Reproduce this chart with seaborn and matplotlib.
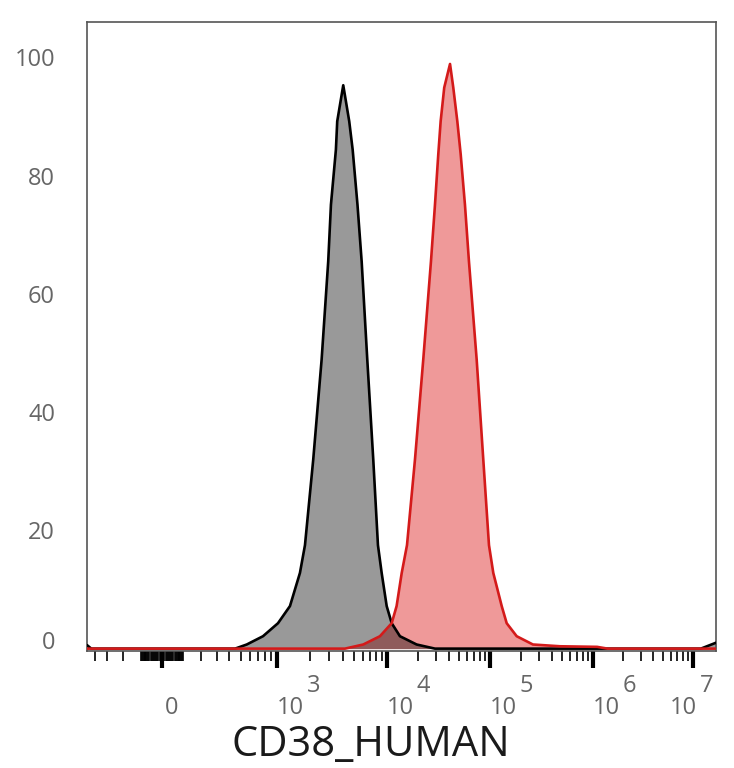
import numpy as np
import pandas as pd
import matplotlib
matplotlib.use("Agg")
import matplotlib.pyplot as plt
import matplotlib.transforms as mtransforms
import seaborn as sns

# ---------------- data ----------------
GRAY_X = [-467, -430, 450, 563, 767, 1021, 1313, 1618, 1798, 2138, 2548, 2925, 3097,
          3435, 3532, 4006, 4540, 4878, 5395, 5888, 6622, 7505, 8279, 8948, 9937,
          11110, 13360, 19390, 29240, 50000, 1.2e7, 1.7e7]
GRAY_Y = [0.6, 0, 0, 0.7, 2.1, 4.3, 7.2, 12.8, 17.5, 32.0, 48.9, 65.5, 75.1,
          84.4, 89.2, 95.3, 89.2, 84.4, 75.1, 65.5, 48.9, 32.0, 17.5, 12.8, 7.2,
          4.3, 2.1, 0.7, 0, 0, 0, 1.0]

RED_X = [-467, 4150, 6090, 8630, 11110, 12400, 13900, 15640, 18700, 22500, 26730,
         29240, 31480, 33190, 35960, 40930, 44030, 48190, 51970, 57150, 62500,
         74270, 86100, 97800, 107700, 130000, 145300, 181700, 261200, 478000,
         1.1e6, 1.4e6, 1.7e7]
RED_Y = [0, 0, 0.7, 2.1, 4.3, 7.2, 12.8, 17.5, 32.0, 48.9, 65.5,
         75.1, 83.6, 89.2, 94.9, 98.9, 94.9, 89.2, 83.6, 75.1, 65.5,
         48.9, 32.0, 17.5, 12.8, 7.2, 4.3, 2.1, 0.7, 0.4,
         0.3, 0, 0]

Y_TICKS = [0, 20, 40, 60, 80, 100]
X_MAJOR = [0, 1e3, 1e4, 1e5, 1e6, 1e7]
X_EXPONENTS = ["", "3", "4", "5", "6", "7"]
X_LABEL = "CD38_HUMAN"

# ---------------- biexponential-like axis scale ----------------
KNOT_VAL = np.array([0, 100, 200, 400, 1000, 1e4, 1e5, 1e6, 1e7, 1e8, 1e9])
KNOT_POS = np.array([0, 21, 39, 67, 115, 225, 328, 431, 531, 631, 731], float)
KNOT_G = np.arcsinh(KNOT_VAL / 100.0)


def fwd(x):
    x = np.asarray(x, dtype=float)
    g = np.arcsinh(np.abs(x) / 100.0)
    return np.sign(x) * np.interp(g, KNOT_G, KNOT_POS)


def inv(p):
    p = np.asarray(p, dtype=float)
    g = np.interp(np.abs(p), KNOT_POS, KNOT_G)
    return np.sign(p) * 100.0 * np.sinh(g)


# ---------------- figure ----------------
sns.set_style("white")
plt.rcParams["font.family"] = ["Open Sans", "DejaVu Sans"]

W, H = 734, 768
fig = plt.figure(figsize=(W / 100, H / 100), dpi=100)
ax = fig.add_axes([87 / W, 1 - 651 / H, (716 - 87) / W, (651 - 22) / H])

gray = pd.DataFrame({"x": GRAY_X, "y": GRAY_Y})
red = pd.DataFrame({"x": RED_X, "y": RED_Y})

ax.fill_between(red["x"], red["y"], 0, color="#dc1e1e", alpha=0.45, lw=0, zorder=1)
ax.fill_between(gray["x"], gray["y"], 0, color="black", alpha=0.40, lw=0, zorder=2)
sns.lineplot(data=red, x="x", y="y", ax=ax, color="#d41a1a", lw=1.9,
             estimator=None, sort=False, zorder=4)
sns.lineplot(data=gray, x="x", y="y", ax=ax, color="black", lw=1.9,
             estimator=None, sort=False, zorder=3)

ax.set_xscale("function", functions=(fwd, inv))
ax.set_xlim(-467, 1.7e7)
ax.set_ylim(-0.4, 106)

# y ticks
ax.set_yticks(Y_TICKS, labels=[str(v) for v in Y_TICKS])
ax.tick_params(axis="y", left=False, length=0, pad=23, labelsize=17, labelcolor="#666666")
ax.get_yticklabels()[0].set_verticalalignment("baseline")

# x ticks
minor = [m for m in range(-100, 101, 5) if m != 0] + [-400, -300, -200]
for dec in [100, 1e3, 1e4, 1e5, 1e6]:
    for k in range(2, 10):
        minor.append(k * dec)
ax.set_xticks(X_MAJOR, labels=[""] * len(X_MAJOR))
ax.set_xticks(sorted(set(minor)), minor=True)
ax.xaxis.set_minor_formatter(matplotlib.ticker.NullFormatter())
ax.tick_params(axis="x", which="major", bottom=True, length=12, width=3,
               color="black", direction="out")
ax.tick_params(axis="x", which="minor", bottom=True, length=7, width=1.2,
               color="black", direction="out")

# custom tick labels: "10" with raised exponent
blend = mtransforms.blended_transform_factory(ax.transData, ax.transAxes)
lab_kw = dict(fontsize=17, color="#666666", va="center")
for val, ex in zip(X_MAJOR, X_EXPONENTS):
    if val == 0:
        t = mtransforms.offset_copy(blend, fig=fig, x=3, y=-57, units="dots")
        ax.text(val, 0, "0", transform=t, ha="left", **lab_kw)
        continue
    if val == 1e7:
        t = mtransforms.offset_copy(blend, fig=fig, x=4, y=-57, units="dots")
        ax.text(val, 0, "10", transform=t, ha="right", **lab_kw)
        te = mtransforms.offset_copy(blend, fig=fig, x=7, y=-35, units="dots")
        ax.text(val, 0, ex, transform=te, ha="left", **lab_kw)
    else:
        t = mtransforms.offset_copy(blend, fig=fig, x=0, y=-57, units="dots")
        ax.text(val, 0, "10", transform=t, ha="left", **lab_kw)
        te = mtransforms.offset_copy(blend, fig=fig, x=30, y=-35, units="dots")
        ax.text(val, 0, ex, transform=te, ha="left", **lab_kw)

ax.set_xlabel(X_LABEL, fontsize=30, color="#1a1a1a")
ax.xaxis.set_label_coords((371 - 87) / (716 - 87), -73 / (651 - 22))
ax.set_ylabel("")

for s in ax.spines.values():
    s.set_color("#555555")
    s.set_linewidth(1.2)
    s.set_visible(True)

fig.savefig("out.png", dpi=100)
